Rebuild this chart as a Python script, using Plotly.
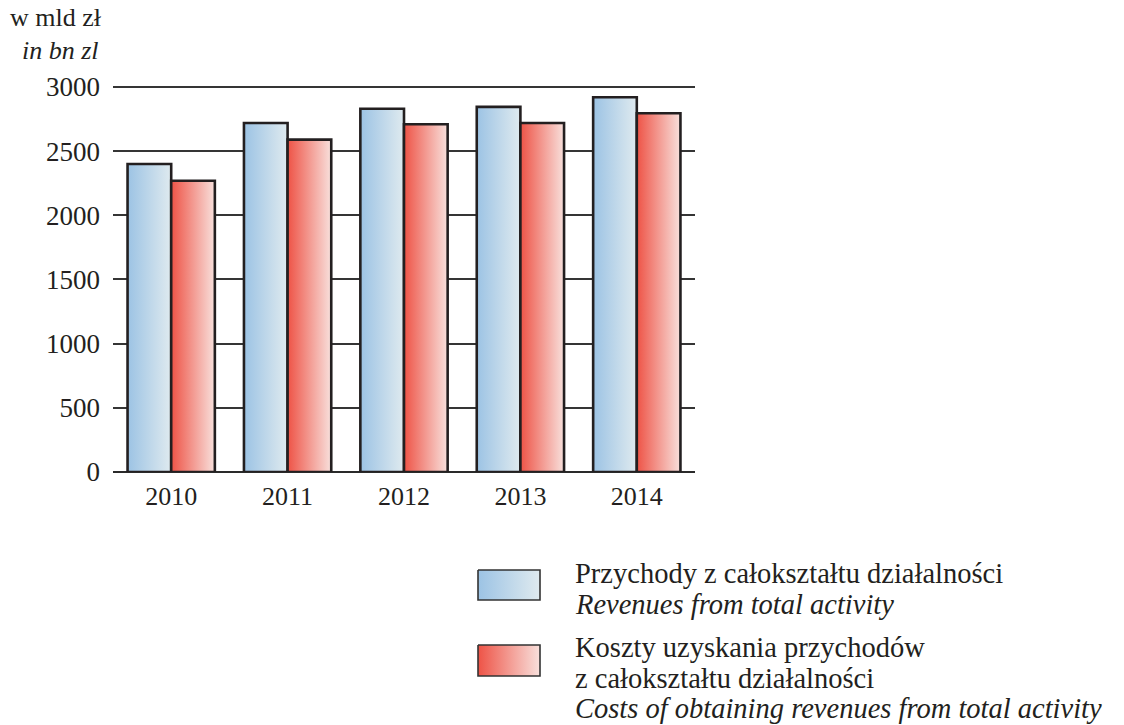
import plotly.graph_objects as go

years = ["2010", "2011", "2012", "2013", "2014"]
revenues = [2400, 2720, 2830, 2845, 2920]
costs = [2270, 2590, 2710, 2720, 2795]
y_ticks = [0, 500, 1000, 1500, 2000, 2500, 3000]

W, H = 1124, 725
FONT = "Liberation Serif"
BLUE = [[0, "#9cc3e4"], [1, "#dfeaef"]]
RED = [[0, "#ee5346"], [1, "#f8e0dc"]]
OUTLINE = "#231f20"
BW = 0.375
Y_TOP = 3040  # headroom so the 3000 gridline is drawn

fig = go.Figure()

def bar_poly(x0, x1, v, scale, name):
    fig.add_trace(go.Scatter(
        x=[x0, x0, x1, x1, x0], y=[0, v, v, 0, 0],
        mode="lines", fill="toself",
        fillgradient=dict(type="horizontal", colorscale=scale),
        line=dict(color=OUTLINE, width=2.6),
        name=name, showlegend=False, hoverinfo="text",
        text=f"{name}: {v}", xaxis="x", yaxis="y",
    ))

for i, (r, c) in enumerate(zip(revenues, costs)):
    bar_poly(i - BW, i, r, BLUE, "Przychody")
    bar_poly(i, i + BW, c, RED, "Koszty")

# legend swatches on a full-page pixel axis
def swatch(x0, x1, y0, y1, scale):
    fig.add_trace(go.Scatter(
        x=[x0, x0, x1, x1, x0], y=[y0, y1, y1, y0, y0],
        mode="lines", fill="toself",
        fillgradient=dict(type="horizontal", colorscale=scale),
        line=dict(color="#333333", width=1.6),
        showlegend=False, hoverinfo="skip", xaxis="x2", yaxis="y2",
    ))

swatch(478, 540, 570, 600, BLUE)
swatch(478, 540, 645, 676, RED)

px_per_unit = (472 - 87) / 3000
top_px = 472 - Y_TOP * px_per_unit

fig.update_layout(
    width=W, height=H,
    template="none",
    paper_bgcolor="white", plot_bgcolor="rgba(0,0,0,0)",
    margin=dict(l=0, r=0, t=0, b=0),
    showlegend=False,
    font=dict(family=FONT, size=26, color="#231f20"),
    xaxis=dict(
        domain=[113 / W, 695 / W], range=[-0.5, 4.5],
        tickvals=list(range(len(years))), ticktext=years,
        showgrid=False, zeroline=False, showline=False, ticks="",
        ticklabelstandoff=6, automargin=False,
        tickfont=dict(family=FONT, size=26, color="#231f20"),
    ),
    yaxis=dict(
        domain=[1 - 472 / H, 1 - top_px / H], range=[0, Y_TOP],
        tickvals=y_ticks, ticktext=[str(t) for t in y_ticks],
        showgrid=True, gridcolor="#353535", gridwidth=1.6,
        zeroline=True, zerolinecolor="#2a2a2a", zerolinewidth=2.2,
        showline=False, ticks="", ticklabelstandoff=12, automargin=False,
        tickfont=dict(family=FONT, size=27, color="#231f20"),
    ),
    xaxis2=dict(domain=[0, 1], range=[0, W], visible=False,
                anchor="y2", automargin=False, fixedrange=True),
    yaxis2=dict(domain=[0, 1], range=[H, 0], visible=False,
                anchor="x2", automargin=False, fixedrange=True),
)

ann = [
    ("w mld zł", 104, 18, "right", 26),
    ("<i>in bn zl</i>", 101, 50, "right", 26),
    ("Przychody z całokształtu działalności", 573, 573, "left", 28.5),
    ("<i>Revenues from total activity</i>", 573, 604, "left", 28.5),
    ("Koszty uzyskania przychodów", 573, 647, "left", 28.5),
    ("z całokształtu działalności", 573, 678, "left", 28.5),
    ("<i>Costs of obtaining revenues from total activity</i>", 573, 708, "left", 28.5),
]
for text, x, y, anchor, size in ann:
    fig.add_annotation(
        text=text, x=x / W, y=1 - y / H, xref="paper", yref="paper",
        xanchor=anchor, yanchor="middle", showarrow=False,
        font=dict(family=FONT, size=size, color="#231f20"),
    )

fig.write_html("out.html", config={"displayModeBar": False})

# remove default page margin so the figure sits at the window's top-left corner
with open("out.html", encoding="utf-8") as f:
    html = f.read()
html = html.replace("<body>", '<body style="margin:0;padding:0;overflow:hidden">', 1)
with open("out.html", "w", encoding="utf-8") as f:
    f.write(html)
